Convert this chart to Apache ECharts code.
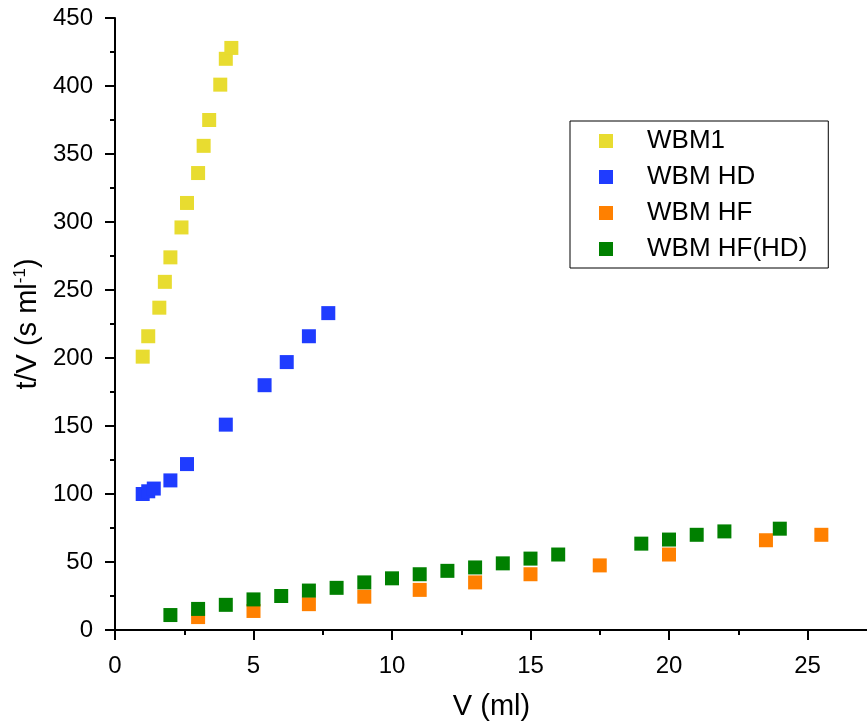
<!DOCTYPE html>
<html>
<head>
<meta charset="utf-8">
<script src="https://cdn.jsdelivr.net/npm/echarts@6/dist/echarts.min.js"></script>
<style>
html, body { margin: 0; padding: 0; background: #fff; }
#chart { width: 867px; height: 728px; }
</style>
</head>
<body>
<div id="chart"></div>
<script>
// values
var seriesNames = ['WBM1', 'WBM HD', 'WBM HF', 'WBM HF(HD)'];

var wbm1X = [1.0, 1.2, 1.6, 1.8, 2.0, 2.4, 2.6, 3.0, 3.2, 3.4, 3.8, 4.0, 4.2];
var wbm1Y = [201, 216, 237, 256, 274, 296, 314, 336, 356, 375, 401, 420, 428];

var hdX = [1.0, 1.2, 1.4, 2.0, 2.6, 4.0, 5.4, 6.2, 7.0, 7.7];
var hdY = [100, 102, 104, 110, 122, 151, 180, 197, 216, 233];

var hfX = [3, 5, 7, 9, 11, 13, 15, 17.5, 20, 23.5, 25.5];
var hfY = [9.5, 14, 19, 24.5, 29.5, 35, 41, 47.5, 55.5, 66, 70];

var hfhdX = [2, 3, 4, 5, 6, 7, 8, 9, 10, 11, 12, 13, 14, 15, 16, 19, 20, 21, 22, 24];
var hfhdY = [11, 15.5, 18.5, 22.5, 25, 29, 31, 35, 38, 41, 43.5, 46, 49, 52.5, 55.5, 63.5, 66.5, 70, 72.5, 74.5];

var colors = ['#E8DC30', '#1F3CFF', '#FF8000', '#008000'];

function pairs(xs, ys) {
	var out = [];
	for (var i = 0; i < xs.length; i++) {
		out.push([xs[i], ys[i]]);
	}
	return out;
}

var font = "'Liberation Sans', Arial, sans-serif";
var chart = echarts.init(document.getElementById('chart'));

var axisCommon = {
	axisLine: { show: true, onZero: false, lineStyle: { color: '#000', width: 2 } },
	axisTick: { show: true, inside: false, length: 10, lineStyle: { color: '#000', width: 2 } },
	minorTick: { show: true, splitNumber: 2, length: 5, lineStyle: { color: '#000', width: 2 } },
	splitLine: { show: false },
	minorSplitLine: { show: false }
};

function scatter(i, xs, ys) {
	return {
		name: seriesNames[i],
		type: 'scatter',
		symbol: 'rect',
		symbolSize: 14,
		itemStyle: { color: colors[i], opacity: 1 },
		data: pairs(xs, ys)
	};
}

var option = {
	animation: false,
	backgroundColor: '#fff',
	color: colors,
	grid: {
		left: 115,
		top: 18,
		bottom: 98,
		right: -79, // axis runs to 30 so that 27.1 sits at the right edge
		outerBoundsMode: 'none'
	},
	legend: {
		orient: 'vertical',
		left: 570,
		top: 121,
		icon: 'rect',
		itemWidth: 14,
		itemHeight: 14,
		itemGap: 10,
		padding: [7, 21, 6, 29],
		borderColor: '#000',
		borderWidth: 1,
		textStyle: {
			fontFamily: font,
			fontSize: 26,
			lineHeight: 26,
			color: '#000',
			padding: [0, 0, 0, 29]
		},
		data: seriesNames
	},
	xAxis: Object.assign({
		type: 'value',
		min: 0,
		max: 30,
		interval: 5,
		name: 'V (ml)',
		nameLocation: 'middle',
		nameGap: 62,
		nameTextStyle: { fontFamily: font, fontSize: 29, color: '#000', padding: [0, 78, 0, 0] },
		axisLabel: { fontFamily: font, fontSize: 24, color: '#000', margin: 24 }
	}, axisCommon),
	yAxis: Object.assign({
		type: 'value',
		min: 0,
		max: 450,
		interval: 50,
		name: '{a|t/V (s ml}{s|-1}{a|)}',
		nameLocation: 'middle',
		nameRotate: 90,
		nameGap: 68,
		nameTextStyle: {
			rich: {
				a: { fontFamily: font, fontSize: 29, color: '#000' },
				s: { fontFamily: font, fontSize: 17, color: '#000', padding: [0, 0, 14, 0] }
			}
		},
		axisLabel: { fontFamily: font, fontSize: 24, color: '#000', margin: 22 }
	}, axisCommon),
	series: [
		scatter(0, wbm1X, wbm1Y),
		scatter(1, hdX, hdY),
		scatter(2, hfX, hfY),
		scatter(3, hfhdX, hfhdY)
	]
};
chart.setOption(option);
</script>
</body>
</html>
